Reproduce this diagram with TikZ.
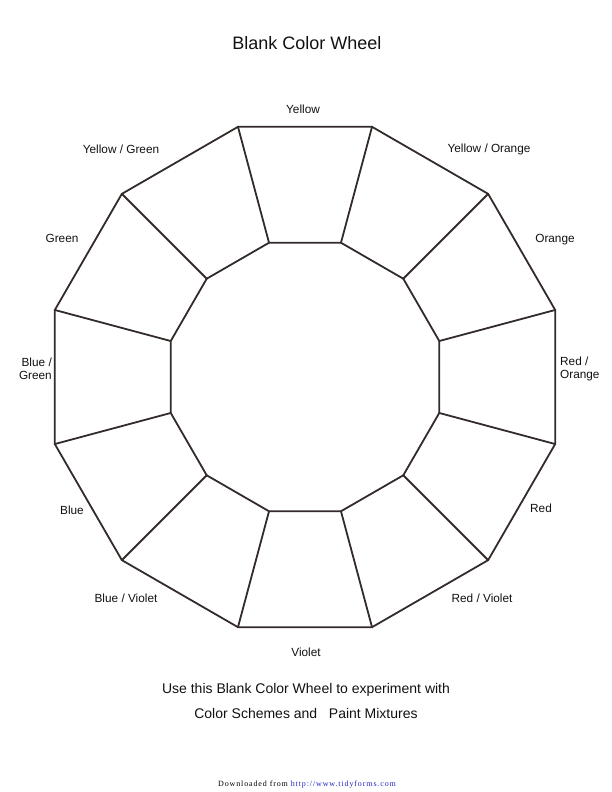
\documentclass[tikz,border=0pt]{standalone}
\usepackage{fontspec}
\setmainfont{Liberation Sans}
\newfontfamily\footfont[LetterSpace=11]{Liberation Serif}
\usepackage{xcolor}
\usetikzlibrary{calc}
\definecolor{ink}{HTML}{332B2A}
\definecolor{txt}{HTML}{111111}
\definecolor{linkblue}{HTML}{2323C8}
\tikzset{
  wheel/.style={draw=ink, line width=1.8pt, line cap=round, line join=round},
  lab/.style={text=txt, font=\fontsize{11.8}{13}\selectfont, inner sep=0pt},
  labl/.style={lab, align=left},
  labr/.style={lab, align=right},
  ttl/.style={text=txt, font=\fontsize{18}{21}\selectfont, inner sep=0pt},
  note/.style={text=txt, font=\fontsize{14}{16}\selectfont, inner sep=0pt},
  foot/.style={font=\footfont\fontsize{8}{9}\selectfont, inner sep=0pt},
}

\begin{document}
\begin{tikzpicture}[x=1pt,y=-1pt]
  \useasboundingbox (0,0) rectangle (612,792);
  \coordinate (O) at (305,377);
  % outer and inner corners
  \foreach \k in {0,...,11}{
    \coordinate (P\k) at ($(O)+({15+30*\k}:259)$);
    \coordinate (Q\k) at ($(O)+({15+30*\k}:139)$);
  }
  \draw[wheel] (P0) -- (P1) -- (P2) -- (P3) -- (P4) -- (P5) -- (P6)
    -- (P7) -- (P8) -- (P9) -- (P10) -- (P11) -- cycle;
  \draw[wheel] (Q0) -- (Q1) -- (Q2) -- (Q3) -- (Q4) -- (Q5) -- (Q6)
    -- (Q7) -- (Q8) -- (Q9) -- (Q10) -- (Q11) -- cycle;
  \foreach \k in {0,...,11}
    \draw[wheel] (P\k) -- (Q\k);

  \node[ttl] (title) at (307,43) {Blank Color Wheel};

  \node[lab] (yel) at (303,109) {Yellow};
  \node[lab] (yelor) at (489,149) {Yellow / Orange};
  \node[lab] (ora) at (555,240) {Orange};
  \node[labl, anchor=west] (redor) at (560,369) {Red /\\Orange};
  \node[lab] (red) at (541,508) {Red};
  \node[lab] (redvi) at (482,598) {Red / Violet};
  \node[lab] (vio) at (306,652) {Violet};
  \node[lab] (bluvi) at (126,598) {Blue / Violet};
  \node[lab] (blu) at (72,510) {Blue};
  \node[labr, anchor=east] (blugr) at (52,369) {Blue /\\Green};
  \node[lab] (gre) at (62,238) {Green};
  \node[lab] (yelgr) at (121,149) {Yellow / Green};

  \node[note] (use) at (306,690) {Use this Blank Color Wheel to experiment with};
  \node[note] (mix) at (306,713) {Color Schemes and \ \ Paint Mixtures};

  \node[foot] (dl) at (307,785) {Downloaded from \textcolor{linkblue}{http://www.tidyforms.com}};
\end{tikzpicture}
\end{document}
